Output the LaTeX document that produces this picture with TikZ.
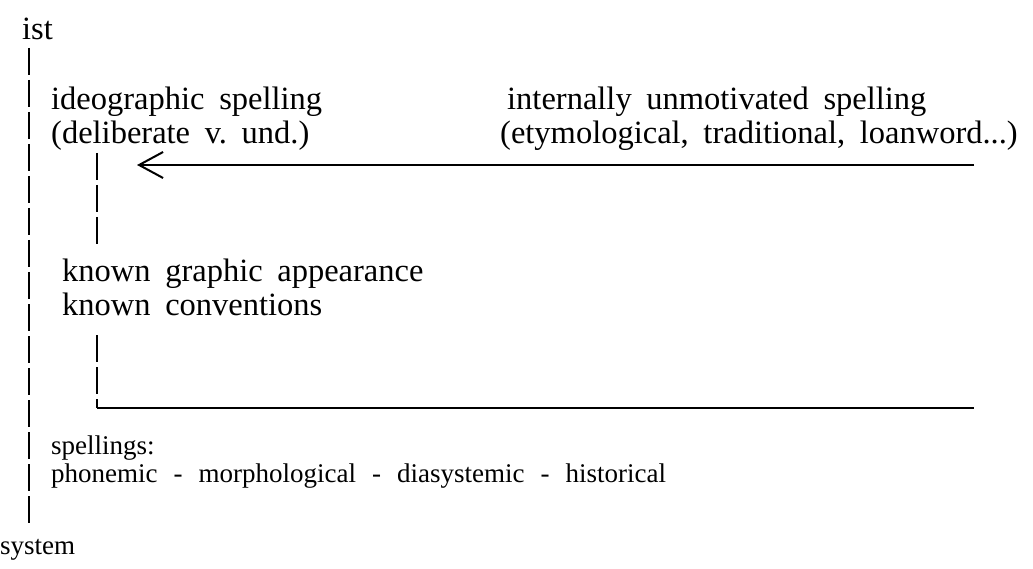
\documentclass[tikz,border=0pt]{standalone}
\usepackage{fontspec}
\setmainfont[WordSpace=1.8]{Liberation Serif}
\usetikzlibrary{arrows.meta}
\begin{document}
\begin{tikzpicture}[x=1pt,y=-1pt,
  lbl/.style={anchor=base west,inner sep=0pt,font=\fontsize{32.5}{36}\selectfont},
  small/.style={anchor=base west,inner sep=0pt,font=\fontsize{27}{32}\selectfont},
  vdash/.style={line width=2pt,dash pattern=on 27pt off 5pt},
  hline/.style={line width=2.6pt}]
\useasboundingbox (0,0) rectangle (1033,569);
% texts
\node[lbl] (ist) at (22,40) {ist};
\node[lbl] (ideo) at (51,110) {ideographic spelling};
\node[lbl] (delib) at (51,144) {(deliberate v.\ und.)};
\node[lbl] (intern) at (507,110) {internally unmotivated spelling};
\node[lbl] (etym) at (500,144) {(etymological, traditional, loanword...)};
\node[lbl] (kga) at (62,282) {known graphic appearance};
\node[lbl] (kc) at (62,315) {known conventions};
\node[small] (spell) at (51,454) {spellings:};
\node[small] (phon) at (51,482) {phonemic\hspace{16pt}-\hspace{16pt}morphological\hspace{16pt}-\hspace{16pt}diasystemic\hspace{16pt}-\hspace{16pt}historical};
\node[small] (sys) at (0,554) {system};
% coordinates
\coordinate (Ltop) at (29,48);
\coordinate (Lbot) at (29,528);
\coordinate (Itop) at (97,153);
\coordinate (Imid) at (97,248);
\coordinate (Ilow) at (97,335);
\coordinate (Icorner) at (97,408);
\coordinate (Bend) at (974,408);
\coordinate (Astart) at (974,165);
\coordinate (Atip) at (137,165);
% lines
\draw[vdash] (Ltop) -- (Lbot);
\draw[vdash] (Itop) -- (Imid);
\draw[vdash] (Ilow) -- (Icorner);
\draw[hline] (Icorner) -- (Bend);
\draw[hline,-{Straight Barb[length=24pt,width=26pt,line width=2pt]}] (Astart) -- (Atip);
\end{tikzpicture}
\end{document}
